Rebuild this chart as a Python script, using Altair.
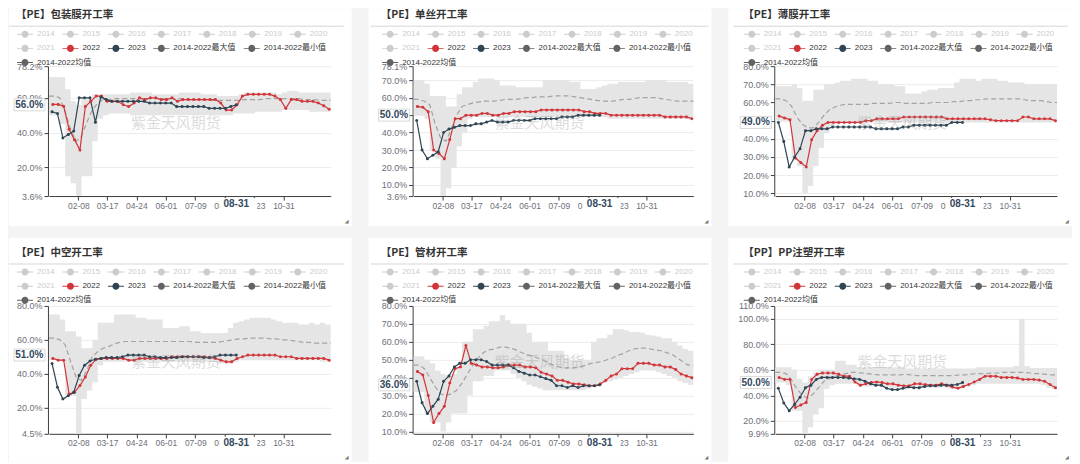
import datetime as dt
import altair as alt
import pandas as pd

# ---------------- text / categories ----------------
TITLES = ["【PE】包装膜开工率", "【PE】单丝开工率", "【PE】薄膜开工率",
          "【PE】中空开工率", "【PE】管材开工率", "【PP】PP注塑开工率"]
LEGEND_ROW1 = ["2014", "2015", "2016", "2017", "2018", "2019", "2020"]
LEGEND_OFF2 = "2021"
S22, S23 = "2022", "2023"
SMAX, SMIN, SAVG = "2014-2022最大值", "2014-2022最小值", "2014-2022均值"
X_TICKS = ["02-08", "03-17", "04-24", "06-01", "07-09", "08-16", "09-23", "10-31"]
X_POINTER = "08-31"
WATERMARK = "紫金天风期货"
FIRST_2022, FIRST_2023, BAND_START, YEAR_END = "01-06", "01-05", "01-01", "12-31"

Y_DOMAINS = [[3.6, 78.2], [3.6, 78.1], [8.5, 80], [4.5, 80], [8.7, 80], [9.9, 110]]
Y_TICKS = [[3.6, 20, 40, 60, 78.2],
           [3.6, 10, 20, 30, 40, 50, 60, 70, 78.1],
           [10, 20, 30, 40, 50, 60, 70, 80],
           [4.5, 20, 40, 60, 80],
           [10, 20, 30, 40, 50, 60, 70, 80],
           [9.9, 20, 40, 60, 80, 100, 110]]
POINTERS = [56.0, 50.0, 49.0, 51.0, 36.0, 50.0]

# ---------------- series values (%) ----------------
P1_2022 = [56.2, 56.2, 55.2, 42, 36, 30, 55, 58, 61, 61, 58, 58, 58, 56, 55, 57, 60, 59, 60, 60,
           59, 59, 60, 58, 59, 59, 59, 59, 59, 59, 59, 57, 53, 53, 56, 61, 62, 62, 62, 62,
           62, 61, 59, 54, 59, 59, 58, 58, 58, 57, 55.5, 53.5]
P1_2023 = [52, 51, 37, 39, 41, 60, 60, 60, 46, 60.5, 59, 58, 58, 58, 58, 58, 58, 58, 57, 57,
           57, 57, 57, 55, 55, 55, 55, 55, 55, 54, 54, 54, 54, 55, 56]
P1_MAX = [72, 72, 72, 65, 58, 56, 60, 60, 62, 62, 62, 62, 62, 62, 62, 63, 63, 63, 63, 62,
          62, 62, 62, 62, 63, 63, 63, 63, 62, 62, 62, 61, 61, 61, 61, 62, 63, 63, 63, 63,
          63, 63, 62, 63, 64, 64, 63, 63, 63, 63, 63, 63]
P1_MIN = [50, 50, 45, 15, 11, 3.6, 15, 15, 35, 48, 50, 51, 51, 51, 51, 50, 50, 50, 50, 50,
          50, 50, 50, 50, 50, 50, 50, 50, 50, 50, 50, 50, 50, 50, 51, 51, 51, 51, 52, 52,
          52, 52, 52, 53, 53, 53, 53, 53, 52, 52, 52, 52]
P1_AVG = [61, 61, 60, 52, 42, 35, 38, 46, 53, 57, 59, 59, 59.5, 59.5, 59.5, 59.5, 59.5, 59.5, 59.5, 59.5,
          59.5, 59.5, 59.5, 59.5, 59.5, 59.5, 59, 59, 59, 59, 58.5, 58.5, 58.5, 58.5, 58.5, 58.5, 59, 59, 59, 59,
          59.5, 59.5, 59.5, 59.5, 59.5, 59.5, 59.5, 59, 59, 59, 58.5, 58.5]

P2_2022 = [55, 54.5, 52, 30, 28, 25, 36, 48, 48, 50, 50, 50, 51, 51, 50, 50, 51, 51, 52, 52,
           52, 52, 52, 53, 53, 53, 53, 53, 53, 53, 53, 52, 52, 51, 51, 51, 50, 50, 50, 50,
           50, 50, 50, 50, 50, 50, 49, 49, 49, 49, 49, 48]
P2_2023 = [47, 30, 25, 27, 29, 40, 42, 43, 44, 44, 44, 45, 45, 46, 47, 46, 46, 46, 47, 47,
           47, 47, 48, 48, 48, 48, 48, 49, 49, 49, 50, 50, 50, 50, 50]
P2_MAX = [70, 70, 68, 61, 61, 61, 55, 55, 62, 66, 66, 69, 71, 71, 71, 70, 67, 67, 67, 66,
          66, 66, 66, 66, 70, 70, 70, 70, 70, 69, 69, 65, 65, 65, 66, 67, 68, 68, 69, 69,
          69, 69, 69, 70, 70, 70, 70, 69, 69, 69, 69, 68]
P2_MIN = [50, 50, 48, 30, 25, 3.6, 8, 20, 32, 40, 48, 49, 49, 49, 49, 49, 49, 49, 49, 49,
          49, 49, 49, 49, 49, 49, 49, 49, 49, 49, 49, 49, 49, 49, 49, 49, 48, 48, 48, 48,
          48, 48, 48, 48, 48, 48, 48, 48, 48, 48, 48, 48]
P2_AVG = [59, 59, 58, 56, 45, 37, 35, 42, 50, 55, 56, 57, 57.5, 58, 58, 58, 58.5, 59, 59, 59,
          59.5, 60, 60, 60.5, 60.5, 60.5, 61, 61, 61, 61, 60.5, 60, 59.5, 59, 58.5, 58, 58, 58, 58.5, 59,
          59, 59.5, 60, 60, 60, 60, 59.5, 59, 58.5, 58, 58, 58]

P3_2022 = [52.5, 51.5, 50.5, 29.5, 27, 24.5, 39.5, 44.5, 47.5, 49, 49, 49, 49, 49, 49, 49, 50, 50, 51, 51,
           51, 51, 51, 52, 52, 52, 52, 52, 52, 52, 52, 51, 51, 51, 51, 51, 51, 51, 51, 50.5,
           50, 50, 50, 50, 50, 52, 52, 51, 51, 51, 51, 50]
P3_2023 = [49, 38.5, 24.5, 30, 34.5, 44.5, 44.5, 45.5, 45.5, 45.5, 46.5, 46.5, 46.5, 46.5, 46.5, 46.5, 46.5, 46.5,
           45.5, 45.5, 45.5, 45.5, 45.5, 46.5, 46.5, 47.5, 47.5, 47.5, 47.5, 47.5, 47.5, 47.5, 49, 49, 49]
P3_MAX = [69, 69, 69, 70, 68, 61, 61, 67, 67, 70, 70, 71, 72, 72, 73, 73, 73, 72, 72, 70,
          70, 70, 69, 69, 65, 65, 65, 66, 67, 67, 68, 68, 68, 71, 73, 73, 73, 72, 73, 73,
          73, 72, 72, 71, 71, 71, 70, 70, 70, 70, 70, 70]
P3_MIN = [50, 50, 50, 28, 25, 10, 14, 25, 35, 43, 47, 48, 49, 49, 49, 49, 49, 49, 49, 49,
          49, 49, 49, 49, 49, 49, 49, 49, 49, 49, 49, 49, 49, 49, 49, 49, 49, 49, 49, 49,
          49, 49, 49, 49, 49, 49, 49, 49, 49, 49, 49, 49]
P3_AVG = [62, 62, 61, 58, 52, 48, 46, 46, 49, 53, 56, 57.5, 58.5, 59, 59, 59, 59, 59, 59.5, 59.5,
          59.5, 59.5, 60, 60, 59.5, 59.5, 59.5, 59.5, 59.5, 60, 60, 60, 60, 60.5, 60.5, 61, 61, 61.5, 61.5, 62,
          62, 62, 62, 62, 62, 62, 61.5, 61, 61, 61, 60.5, 60]

P4_2022 = [49, 48, 48, 28, 29, 33, 38, 45, 48.5, 49, 49, 49, 49, 49, 48, 48, 49, 49, 49, 49,
           49, 49, 50, 50, 50, 50, 50, 50, 50, 49.5, 49, 48, 47, 47, 49, 50, 51, 51, 51, 51,
           51, 51, 50, 50, 50, 49, 49, 49, 49, 49, 49, 48]
P4_2023 = [46, 32, 25, 27, 29, 39, 45, 47.5, 48.5, 49, 49.5, 49.5, 49.5, 50, 51, 51, 51, 51, 50, 50,
           49.5, 49.5, 49.5, 49.5, 50, 50, 50, 50, 49.5, 49.5, 50, 51, 51, 51, 51]
P4_MAX = [75, 75, 72, 65, 65, 62, 55, 55, 60, 70, 70, 70, 75, 75, 75, 75, 73, 73, 72, 72,
          72, 67, 67, 67, 68, 68, 65, 65, 64, 64, 64, 64, 64, 67, 70, 71, 72, 73, 73, 73,
          73, 72, 71, 70, 70, 70, 69, 69, 70, 69, 70, 69]
P4_MIN = [48, 48, 48, 27, 27, 4.5, 25, 30, 35, 45, 47, 47, 47, 47, 47, 47, 47, 47, 47, 47,
          47, 47, 47, 47, 47, 47, 47, 47, 47, 47, 47, 46, 46, 46, 47, 48, 48, 48, 48, 48,
          48, 48, 48, 48, 48, 48, 48, 48, 48, 48, 47, 47]
P4_AVG = [61, 61, 60, 57, 47, 38, 36, 42, 50, 53, 55, 56, 57.5, 58.5, 59, 59, 59, 59, 59, 59,
          59, 59, 59, 59, 59, 59, 59, 58.5, 58.5, 58.5, 58.5, 58.5, 59, 59.5, 60, 60.5, 60.5, 61, 61, 61,
          61, 60.5, 60.5, 60, 60, 59.5, 59, 58.5, 58.5, 58, 58, 58]

P5_2022 = [43.5, 41.5, 30, 15, 20, 24, 37, 45, 46, 58, 48, 47, 46, 46, 45.5, 45.5, 46, 47, 47, 47,
           46, 46, 45.5, 43, 42, 41, 38.5, 38.5, 37.5, 36.5, 36.5, 36, 35.5, 35.5, 36.5, 38.5, 41, 42, 45, 45,
           45, 48, 48, 48, 47, 47, 46, 46, 44.5, 42, 41, 40]
P5_2023 = [38, 26, 20, 24, 28, 38, 41, 46, 48, 48, 50, 50, 50, 49, 47, 47, 47, 47, 45.5, 43.5,
           42.5, 41.5, 41.5, 40.5, 39.5, 38.5, 35.5, 35.5, 34.5, 35.5, 34.5, 35.5, 35.5, 35.5, 36]
P5_MAX = [52, 52, 50, 48, 44, 42, 41, 42, 45, 60, 60, 67, 67, 69, 71.5, 71.5, 75, 72, 70, 70,
          70, 65, 60, 60, 60, 55, 55, 55, 51, 50, 50, 50, 50, 60, 62, 62, 64, 67, 67, 66.5,
          65.5, 65.5, 65, 64, 63.5, 63, 62, 62, 60, 58, 56, 55]
P5_MIN = [32, 32, 20, 15, 15, 10, 15, 20, 20, 20, 30, 38, 38, 41, 41, 44, 44, 44, 42, 40,
          38, 36, 35, 34, 33, 33, 33, 33, 33, 33, 33, 33, 34, 35, 36, 37, 38, 39, 40, 41,
          42, 43, 44, 44, 44, 43, 42, 41, 40, 38, 37, 36]
P5_AVG = [47, 47, 45, 40, 35, 31, 30, 31, 33, 37, 42, 47, 51, 54, 55.5, 56, 57, 57, 56.5, 55.5,
          54, 53, 52, 51, 50, 48, 47, 46, 45.5, 45.5, 45.5, 46, 47, 48, 48.5, 49, 50, 51, 52.5, 53.5,
          55, 56, 56.5, 56.5, 56, 55.5, 55, 54, 53, 51, 49, 47]

P6_2022 = [54, 52.5, 52.5, 30.5, 32.5, 34.5, 52.5, 56.5, 57.5, 57.5, 57.5, 56.5, 55, 55, 50.5, 48, 49, 50, 50.5, 50,
           49, 49, 48, 47.5, 47.5, 49, 49, 48.5, 48, 48, 49, 48, 46.5, 45.5, 47, 48.5, 50.5, 52.5, 55, 55,
           55, 54, 54, 54, 53.5, 52.5, 52.5, 52.5, 52, 51, 48.5, 46]
P6_2023 = [45.5, 34, 28, 33, 38.5, 46, 48, 52.5, 54, 54, 54, 54, 54, 53.5, 53, 52.5, 51, 49, 48, 48,
           45.5, 44.5, 44.5, 45.5, 46.5, 46, 46, 47, 47.5, 47.5, 48, 48, 48, 48.5, 50]
P6_MAX = [62, 62, 62, 60, 53, 50, 55, 58, 60, 60, 60, 67, 67, 64, 64, 62, 62, 62, 62, 62,
          62, 62, 62, 62, 61, 61, 61, 61, 61, 61, 61, 61, 61, 61, 61, 61, 61, 62, 62, 62,
          62, 62, 62, 62, 63, 100, 63, 61.5, 61.5, 61.5, 61.5, 61.5]
P6_MIN = [50, 50, 48, 28, 28, 10, 15, 25, 30, 45, 48, 49, 49, 49, 49, 47, 47, 47, 47, 47,
          47, 46, 46, 46, 46, 46, 46, 46, 46, 46, 46, 46, 45, 45, 46, 47, 48, 49, 49, 49,
          49, 49, 49, 49, 49, 49, 49, 49, 49, 48, 46, 45]
P6_AVG = [58, 58, 57, 52, 45, 40, 38, 41, 46, 51, 53, 55, 56, 57, 58, 58, 57.5, 57, 56.5, 56,
          56, 56, 56, 56, 56.5, 56, 55.5, 55.5, 55.5, 55.5, 55.5, 55.5, 55.5, 55.5, 56, 56, 56.5, 57, 57, 57,
          57.5, 57.5, 58, 58, 58, 58, 58, 57.5, 57, 57, 56.5, 56]

SERIES = [
    (P1_2022, P1_2023, P1_MAX, P1_MIN, P1_AVG),
    (P2_2022, P2_2023, P2_MAX, P2_MIN, P2_AVG),
    (P3_2022, P3_2023, P3_MAX, P3_MIN, P3_AVG),
    (P4_2022, P4_2023, P4_MAX, P4_MIN, P4_AVG),
    (P5_2022, P5_2023, P5_MAX, P5_MIN, P5_AVG),
    (P6_2022, P6_2023, P6_MAX, P6_MIN, P6_AVG),
]

# ---------------- style ----------------
RED, NAVY, OFF_C, STAT_C = "#d1353a", "#2f4554", "#cccccc", "#636363"
BAND_C, AVG_C, GRID_C, AXIS_C, LAB_C = "#e5e5e5", "#a3a3a3", "#ececec", "#3d3d3d", "#6e7079"
BG = "#f4f4f4"
FONT = "Liberation Sans, Noto Sans CJK SC, sans-serif"
CJK = "Noto Sans CJK SC"
PTR_C = "#34495e"
SYM = ("M-1,-0.06H1V0.06H-1Z M0.44,0A0.44,0.44,0,1,1,-0.44,0"
       "A0.44,0.44,0,1,1,0.44,0Z")
BOX_Y = "M-1,-0.387H1V0.387H-1Z"
BOX_X = "M-1,-0.36H1.24V0.36H-1Z"

# layout (per column / per row)
COL_W = [343, 343, 344]
ROW_H = [218, 224]
PLOT_X = [(40, 322), (45, 325), (47, 329)]
PLOT_Y = [(58, 188), (68, 196)]
TITLE_X = [7, 12, 15]
TITLE_Y = [7, 15]
SEP_X = [(0, 335), (2, 340), (5, 340)]
SEP_Y = [18, 26]
LEG_X = [8, 13.5, 15.5]
LEG_Y = [18, 26]
ROW_STEP = 14.2
XLAB_Y = [196, 205]


def doy(md):
    m, d = md.split("-")
    return (dt.date(2022, int(m), int(d)) - dt.date(2022, 1, 1)).days


ROW2 = [LEGEND_OFF2, S22, S23, SMAX, SMIN]
ROW2_COL = [OFF_C, RED, NAVY, STAT_C, STAT_C]
LABEL_COLOR2 = {"expr": "datum.label == '%s' ? '%s' : '#333333'" % (LEGEND_OFF2, OFF_C)}
TICK_DAYS = [doy(t) for t in X_TICKS]
END_DAY = doy(YEAR_END)


def build(i):
    s22, s23, mx, mn, avg = SERIES[i]
    col, row = i % 3, i // 3
    W, H = COL_W[col], ROW_H[row]
    x0, x1 = PLOT_X[col]
    yt, yb = PLOT_Y[row]

    d22 = [doy(FIRST_2022) + 7 * k for k in range(len(s22))]
    d23 = [doy(FIRST_2023) + 7 * k for k in range(len(s23))]
    db = [doy(BAND_START) + 7 * k for k in range(len(mx))] + [END_DAY]

    df22 = pd.DataFrame({"day": d22, "v": s22, "series": [S22] * len(s22)})
    df23 = pd.DataFrame({"day": d23, "v": s23, "series": [S23] * len(s23)})
    df_ser = pd.concat([df22, df23], ignore_index=True)
    df_band = pd.DataFrame({"day": db, "mx": mx + [mx[-1]], "mn": mn + [mn[-1]]})
    df_avg = pd.DataFrame({"day": db, "v": avg + [avg[-1]]})
    df_leg1 = pd.DataFrame({"day": [db[0]] * len(LEGEND_ROW1), "v": [avg[0]] * len(LEGEND_ROW1),
                            "name": LEGEND_ROW1})
    df_leg3 = pd.DataFrame({"day": [db[0]], "v": [avg[0]], "name": [SAVG]})
    one = pd.DataFrame({"k": [0]})
    df_yp = pd.DataFrame({"v": [POINTERS[i]], "lab": ["%.1f%%" % POINTERS[i]]})
    df_xp = pd.DataFrame({"day": [doy(X_POINTER)], "lab": [X_POINTER]})

    xs = alt.Scale(domain=[0, END_DAY], range=[x0, x1], nice=False, zero=False)
    ys = alt.Scale(domain=Y_DOMAINS[i], range=[yb, yt], nice=False, zero=False)
    xaxis = alt.Axis(values=TICK_DAYS, title=None,
                     labelExpr="timeFormat(datetime(2022, 0, 1 + datum.value), '%m-%d')",
                     offset=yb - H, grid=False, domainColor=AXIS_C, tickColor=AXIS_C,
                     tickSize=4, labelFont=FONT, labelFontSize=8.5, labelColor=LAB_C,
                     labelPadding=1, labelOverlap=False, labelFlush=False)
    yaxis = alt.Axis(values=Y_TICKS[i], title=None,
                     labelExpr="format(datum.value, '.1f') + '%'",
                     offset=-(x0 - 1), grid=True, gridColor=GRID_C, gridWidth=1,
                     domainColor=AXIS_C, tickColor=AXIS_C, tickSize=4, labelFont=FONT,
                     labelFontSize=9, labelColor=LAB_C, labelPadding=2,
                     labelOverlap=False, labelFlush=False)

    def X(f):
        return alt.X(f + ":Q", scale=xs, axis=xaxis)

    def Y(f):
        return alt.Y(f + ":Q", scale=ys, axis=yaxis)

    leg_common = dict(orient="none", legendX=LEG_X[col], direction="horizontal",
                      title=None, symbolType=SYM, symbolSize=256, symbolStrokeWidth=0,
                      symbolOpacity=1, labelFont=FONT, labelFontSize=8, labelOffset=4,
                      columnPadding=7.5, rowPadding=5, padding=0, labelLimit=300)

    band = alt.Chart(df_band).mark_area(interpolate="step-after", color=BAND_C, opacity=1).encode(
        x=X("day"), y=Y("mx"), y2=alt.Y2("mn"))
    mean = alt.Chart(df_avg).mark_line(color=AVG_C, strokeDash=[5, 3], strokeWidth=1.2).encode(
        x=X("day"), y=Y("v"))
    line22 = alt.Chart(df22).mark_line(color=RED, strokeWidth=1.2).encode(x=X("day"), y=Y("v"))
    line23 = alt.Chart(df23).mark_line(color=NAVY, strokeWidth=1.2).encode(x=X("day"), y=Y("v"))
    # legend row 2 (2021 / 2022 / 2023 / max / min) comes from the point markers
    pts = alt.Chart(df_ser).mark_circle(size=9, opacity=1).encode(
        x=X("day"), y=Y("v"),
        color=alt.Color("series:N", scale=alt.Scale(domain=ROW2, range=ROW2_COL),
                        legend=alt.Legend(legendY=LEG_Y[row] + ROW_STEP, columns=len(ROW2),
                                          labelColor=LABEL_COLOR2, **leg_common)))
    # legend row 1 (disabled years)
    leg1 = alt.Chart(df_leg1).mark_circle(opacity=0, size=1, fill=OFF_C).encode(
        x=X("day"), y=Y("v"),
        stroke=alt.Stroke("name:N", scale=alt.Scale(domain=LEGEND_ROW1, range=[OFF_C] * len(LEGEND_ROW1)),
                          legend=alt.Legend(legendY=LEG_Y[row], columns=len(LEGEND_ROW1),
                                            labelColor=OFF_C, symbolFillColor=OFF_C, **leg_common)))
    # legend row 3 (average)
    leg3 = alt.Chart(df_leg3).mark_circle(opacity=0, size=1).encode(
        x=X("day"), y=Y("v"),
        fill=alt.Fill("name:N", scale=alt.Scale(domain=[SAVG], range=[STAT_C]),
                      legend=alt.Legend(legendY=LEG_Y[row] + 2 * ROW_STEP, columns=1,
                                        labelColor="#333333", **leg_common)))
    wm = alt.Chart(one).mark_text(text=WATERMARK, font=CJK, fontSize=15, color="#8c8c8c",
                                  opacity=0.3, align="center", baseline="middle").encode(
        x=alt.value((x0 + x1) / 2 - 14), y=alt.value((yt + yb) / 2 - 8))
    title = alt.Chart(one).mark_text(text=TITLES[i], font=CJK, fontSize=10.5, fontWeight="bold",
                                     color="#333333", align="left", baseline="middle").encode(
        x=alt.value(TITLE_X[col]), y=alt.value(TITLE_Y[row]))
    sep = alt.Chart(one).mark_rule(color="#d6d6d6", strokeWidth=1).encode(
        x=alt.value(SEP_X[col][0]), x2=alt.value(SEP_X[col][1]), y=alt.value(SEP_Y[row]))
    yp_box = alt.Chart(df_yp).mark_point(shape=BOX_Y, size=961, filled=True, fill="white",
                                         stroke="#cfcfcf", strokeWidth=0.8, opacity=1).encode(
        x=alt.value(x0 - 4 - 15.5), y=Y("v"))
    yp_txt = alt.Chart(df_yp).mark_text(font=FONT, fontSize=10, fontWeight="bold", color=PTR_C,
                                        align="right", baseline="middle").encode(
        x=alt.value(x0 - 5.5), y=Y("v"), text="lab:N")
    xp_box = alt.Chart(df_xp).mark_point(shape=BOX_X, size=1156, filled=True, fill="white",
                                         strokeWidth=0, opacity=1).encode(
        x=X("day"), y=alt.value(XLAB_Y[row]))
    xp_txt = alt.Chart(df_xp).mark_text(font=FONT, fontSize=10, fontWeight="bold", color=PTR_C,
                                        align="center", baseline="middle").encode(
        x=X("day"), y=alt.value(XLAB_Y[row]), text="lab:N")
    corner = alt.Chart(one).mark_text(text="◢", font="DejaVu Sans", fontSize=5, color="#777777",
                                      align="center", baseline="middle").encode(
        x=alt.value(W - 5), y=alt.value(H - 5))

    return alt.layer(band, mean, line22, line23, pts, leg1, leg3, wm, sep, title,
                     yp_box, yp_txt, xp_box, xp_txt, corner).properties(width=W, height=H)


RES = dict(x="independent", y="independent", color="independent",
           fill="independent", stroke="independent")
LRES = dict(color="independent", fill="independent", stroke="independent")

chart = (alt.concat(*[build(i) for i in range(6)], columns=3,
                    spacing={"row": 12, "column": 17}, bounds="flush")
         .resolve_scale(**RES).resolve_legend(**LRES)
         .properties(padding=0)
         .configure(background=BG)
         .configure_view(fill="white", strokeWidth=0))

chart.save("out.html", embed_options={"renderer": "svg", "actions": False})
